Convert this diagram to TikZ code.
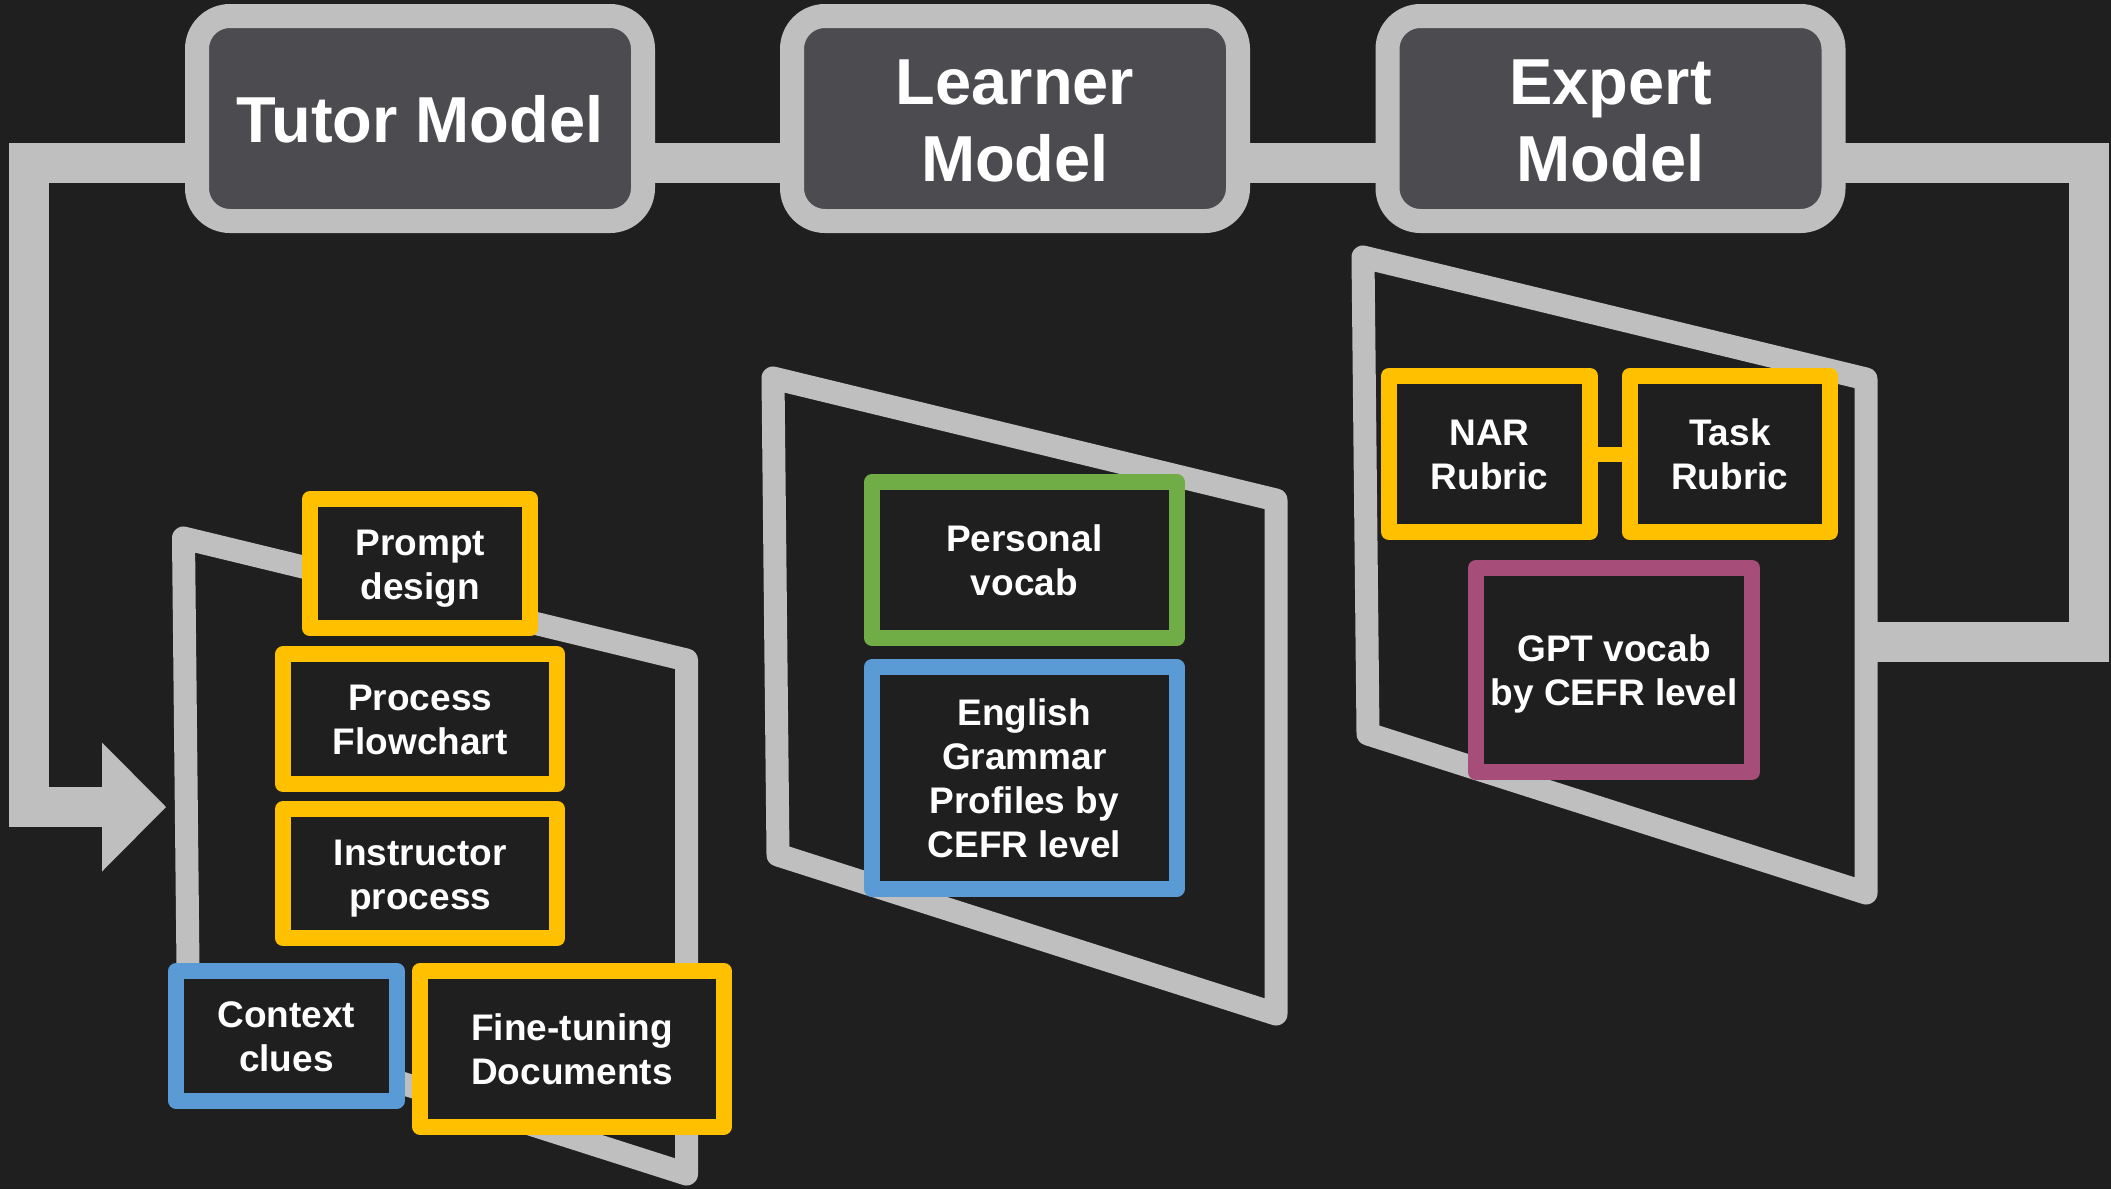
\documentclass[tikz,border=0pt]{standalone}
\usepackage{fontspec}
\setmainfont{Liberation Sans}
\definecolor{bg}{HTML}{1F1F1F}
\definecolor{lg}{HTML}{BFBFBF}
\definecolor{tb}{HTML}{4C4B50}
\definecolor{yel}{HTML}{FFC000}
\definecolor{grn}{HTML}{70AD47}
\definecolor{blu}{HTML}{5B9BD5}
\definecolor{mag}{HTML}{A64D79}
\newcommand{\topstrut}{\rule{0pt}{36pt}}
\newcommand{\titlestrut}{\rule{0pt}{60pt}}
\begin{document}
\begin{tikzpicture}[x=1pt,y=-1pt,
  titlebox/.style={draw=lg, fill=tb, line width=24pt, rounded corners=33pt,
    minimum width=446pt, minimum height=205pt, inner sep=0pt, align=center,
    text=white, font=\fontsize{65}{77}\selectfont\bfseries,
    execute at end node={\rule[-12pt]{0pt}{12pt}}},
  itembox/.style={draw=#1, fill=bg, line width=16pt, line join=round, inner sep=0pt,
    align=center, text=white, font=\fontsize{37}{44}\selectfont\bfseries,
    execute at end node={\rule[-9pt]{0pt}{9pt}}},
  frame/.style={draw=lg, fill=bg, line width=23pt, line join=round},
  link/.style={draw=lg, line width=40pt, line join=miter},
]
\fill[bg] (0,0) rectangle (2111,1189);
\useasboundingbox (0,0) rectangle (2111,1189);

% connector coordinates
\coordinate (cornerTL) at (28.5,163);
\coordinate (cornerBL) at (28.5,807);
\coordinate (arrowbase) at (102,807);
\coordinate (arrowtip) at (166,807);
\coordinate (cornerTR) at (2089,163);
\coordinate (cornerBR) at (2089,642);
\coordinate (expR) at (1866.5,642);
\coordinate (tutorC) at (420,163);
\coordinate (expertC) at (1610.5,163);

% main loop
\draw[link] (expertC) -- (tutorC);
\draw[link] (tutorC) -- (cornerTL) -- (cornerBL) -- (arrowbase);
\fill[lg] (arrowtip) -- ([yshift=64.5pt]arrowbase) -- ([yshift=-64.5pt]arrowbase) -- cycle;
\draw[link] (expertC) -- (cornerTR) -- (cornerBR) -- (expR);

% title boxes
\node[titlebox] (tutor) at (420,118.5) {\titlestrut Tutor Model};
\node[titlebox] (learner) at (1015,118.5) {\titlestrut Learner\\Model};
\node[titlebox] (expert) at (1610.5,118.5) {\titlestrut Expert\\Model};

% trapezoid frames
\draw[frame, shift={(183.5,538)}] (0,0) -- (503,122) -- (503,636) -- (5,477) -- cycle;
\draw[frame, shift={(773,378)}] (0,0) -- (503,122) -- (503,636) -- (5,477) -- cycle;
\draw[frame, shift={(1363,257)}] (0,0) -- (503,122) -- (503,636) -- (5,477) -- cycle;

% tutor items
\node[itembox=yel, minimum width=220.4pt, minimum height=129.3pt] (prompt) at (420.2,563.7) {\topstrut Prompt\\design};
\node[itembox=yel, minimum width=274.3pt, minimum height=129.7pt] (process) at (420.2,719.2) {\topstrut Process\\Flowchart};
\node[itembox=yel, minimum width=274.3pt, minimum height=129.2pt] (instructor) at (420.2,873.6) {\topstrut Instructor\\process};
\node[itembox=blu, minimum width=220.7pt, minimum height=129.5pt] (context) at (286.4,1035.8) {\topstrut Context\\clues};
\node[itembox=yel, minimum width=304pt, minimum height=155.5pt] (finetune) at (572,1048.8) {\topstrut Fine-tuning\\Documents};

% learner items
\node[itembox=grn, minimum width=304.5pt, minimum height=156pt] (personal) at (1024.3,560) {\topstrut Personal\\vocab};
\node[itembox=blu, minimum width=304.5pt, minimum height=222pt] (english) at (1024.3,778) {\topstrut English\\Grammar\\Profiles by\\CEFR level};

% expert items
\node[itembox=yel, minimum width=201pt, minimum height=156pt] (nar) at (1489.5,454) {\topstrut NAR\\Rubric};
\node[itembox=yel, minimum width=200.5pt, minimum height=156pt] (task) at (1729.8,454) {\topstrut Task\\Rubric};
\node[itembox=mag, minimum width=276pt, minimum height=204pt] (gpt) at (1614,670) {\topstrut GPT vocab\\by CEFR level};
\draw[yel, line width=15pt] (nar.east) -- (task.west);
\end{tikzpicture}
\end{document}
